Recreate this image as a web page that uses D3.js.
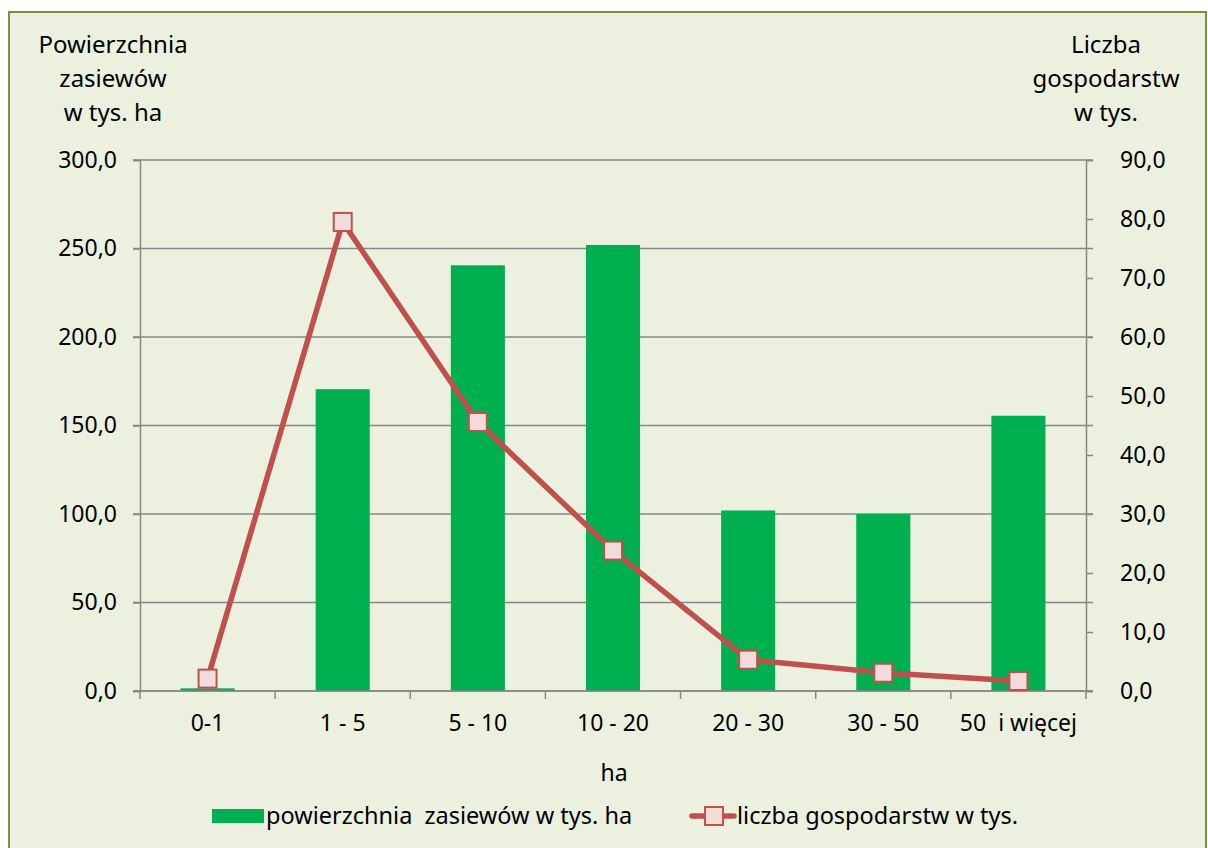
<!DOCTYPE html>
<html>
<head>
<meta charset="utf-8">
<script src="https://cdn.jsdelivr.net/npm/d3@7"></script>
<style>
  body { margin: 0; background: #fff; }
  svg text { font-family: "Noto Sans", "Open Sans", sans-serif; fill: #000; white-space: pre; }
</style>
</head>
<body>
<div id="chart"></div>
<script>
const categories = ["0-1", "1 - 5", "5 - 10", "10 - 20", "20 - 30", "30 - 50", "50  i więcej"];
const areaValues = [1.5, 170.5, 240.5, 252.0, 102.0, 100.0, 155.5];
const farmValues = [2.1, 79.5, 45.6, 23.8, 5.3, 3.1, 1.7];
const leftTicks = [0, 50, 100, 150, 200, 250, 300];
const rightTicks = [0, 10, 20, 30, 40, 50, 60, 70, 80, 90];

const width = 1208, height = 848;
const margin = { top: 160, right: 122, bottom: 157, left: 140 };
const fmt = d => d3.format(".1f")(d).replace(".", ",");
const fs = "23px";

const svg = d3.select("#chart").append("svg")
  .attr("width", width)
  .attr("height", height);

// frame
svg.append("rect")
  .attr("x", 9).attr("y", 12)
  .attr("width", 1197).attr("height", 840)
  .attr("fill", "#EBF1DE")
  .attr("stroke", "#77933C")
  .attr("stroke-width", 2);

const x = d3.scaleBand()
  .domain(categories)
  .range([margin.left, width - margin.right])
  .paddingInner(0.6)
  .paddingOuter(0.3);

const band = d3.scaleBand()
  .domain(categories)
  .range([margin.left, width - margin.right]);

const yL = d3.scaleLinear().domain([0, 300]).range([height - margin.bottom, margin.top]);
const yR = d3.scaleLinear().domain([0, 90]).range([height - margin.bottom, margin.top]);

// gridlines
svg.append("g")
  .selectAll("line")
  .data(leftTicks)
  .enter()
  .append("line")
  .attr("x1", margin.left - 7)
  .attr("x2", width - margin.right + 7)
  .attr("y1", d => yL(d))
  .attr("y2", d => yL(d))
  .attr("stroke", "#878787")
  .attr("stroke-width", 1.5);

// bars
svg.append("g")
  .selectAll("rect")
  .data(areaValues)
  .enter()
  .append("rect")
  .attr("x", (d, i) => x(categories[i]))
  .attr("width", x.bandwidth())
  .attr("y", d => yL(d))
  .attr("height", d => yL(0) - yL(d))
  .attr("fill", "#00B050");

// left axis
const axL = svg.append("g")
  .attr("transform", `translate(${margin.left},0)`)
  .call(d3.axisLeft(yL).tickValues(leftTicks).tickFormat(fmt).tickSize(7).tickPadding(16));
// right axis
const axR = svg.append("g")
  .attr("transform", `translate(${width - margin.right},0)`)
  .call(d3.axisRight(yR).tickValues(rightTicks).tickFormat(fmt).tickSize(7).tickPadding(27));
// bottom axis
const axB = svg.append("g")
  .attr("transform", `translate(0,${height - margin.bottom})`)
  .call(d3.axisBottom(band).tickSize(0).tickPadding(24));

[axL, axR, axB].forEach(g => {
  g.selectAll("path, line").attr("stroke", "#878787").attr("stroke-width", 1.5);
  g.selectAll("text").style("font-size", fs);
});
axB.select(".domain").attr("d", `M${margin.left - 7},0H${width - margin.right + 7}`);

// category boundary ticks
svg.append("g")
  .selectAll("line")
  .data(categories.concat([null]))
  .enter()
  .append("line")
  .attr("x1", (d, i) => margin.left + i * band.step())
  .attr("x2", (d, i) => margin.left + i * band.step())
  .attr("y1", height - margin.bottom)
  .attr("y2", height - margin.bottom + 8)
  .attr("stroke", "#878787")
  .attr("stroke-width", 1.5);

// line
const line = d3.line()
  .x((d, i) => band(categories[i]) + band.bandwidth() / 2)
  .y(d => yR(d));

svg.append("path")
  .datum(farmValues)
  .attr("d", line)
  .attr("fill", "none")
  .attr("stroke", "#C0504D")
  .attr("stroke-width", 5.5)
  .attr("stroke-linejoin", "round");

svg.append("g")
  .selectAll("rect")
  .data(farmValues)
  .enter()
  .append("rect")
  .attr("x", (d, i) => band(categories[i]) + band.bandwidth() / 2 - 9)
  .attr("y", d => yR(d) - 9)
  .attr("width", 18)
  .attr("height", 18)
  .attr("fill", "#F2DCDB")
  .attr("stroke", "#C0504D")
  .attr("stroke-width", 2);

// axis titles
const leftTitle = ["Powierzchnia", "zasiewów", "w tys. ha"];
const rightTitle = ["Liczba", "gospodarstw", "w tys."];
svg.append("g").selectAll("text")
  .data(leftTitle).enter().append("text")
  .attr("x", 113).attr("y", (d, i) => 53 + i * 34)
  .attr("text-anchor", "middle")
  .style("font-size", "24px")
  .text(d => d);
svg.append("g").selectAll("text")
  .data(rightTitle).enter().append("text")
  .attr("x", 1106).attr("y", (d, i) => 53 + i * 34)
  .attr("text-anchor", "middle")
  .style("font-size", "24px")
  .text(d => d);

svg.append("text")
  .attr("x", 614).attr("y", 781)
  .attr("text-anchor", "middle")
  .style("font-size", fs)
  .text("ha");

// legend
const legend = svg.append("g");
legend.append("rect")
  .attr("x", 212).attr("y", 809)
  .attr("width", 52).attr("height", 14)
  .attr("fill", "#00B050");
legend.append("text")
  .attr("x", 266).attr("y", 824)
  .style("font-size", "23.5px")
  .text("powierzchnia  zasiewów w tys. ha");
legend.append("line")
  .attr("x1", 692).attr("x2", 734)
  .attr("y1", 816).attr("y2", 816)
  .attr("stroke", "#C0504D")
  .attr("stroke-width", 5.5)
  .attr("stroke-linecap", "round");
legend.append("rect")
  .attr("x", 705).attr("y", 807)
  .attr("width", 18).attr("height", 18)
  .attr("fill", "#F2DCDB")
  .attr("stroke", "#C0504D")
  .attr("stroke-width", 2);
legend.append("text")
  .attr("x", 737).attr("y", 824)
  .style("font-size", "23.5px")
  .text("liczba gospodarstw w tys.");
</script>
</body>
</html>
